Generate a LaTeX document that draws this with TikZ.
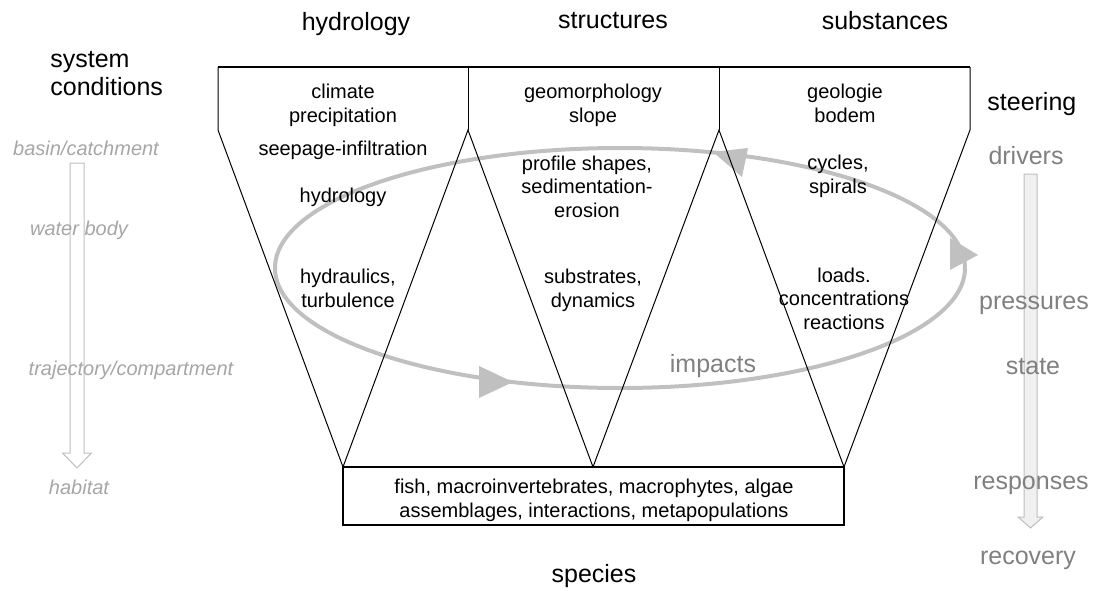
\documentclass[tikz,border=0pt]{standalone}
\usepackage{fontspec}
\setmainfont{Liberation Sans}
\usepackage{tikz}
\definecolor{loopgray}{RGB}{192,192,192}
\definecolor{dpsirgray}{RGB}{128,128,128}
\definecolor{scalegray}{RGB}{166,166,166}
\definecolor{arrowline}{RGB}{190,190,190}
\definecolor{arrowfill}{RGB}{240,240,240}

\begin{document}
\begin{tikzpicture}[x=0.5pt, y=-0.5pt,
	txt/.style={font=\fontsize{10}{11.75}\selectfont, align=center, inner sep=0pt, anchor=base},
	head/.style={font=\fontsize{12.5}{14}\selectfont, inner sep=0pt, anchor=base},
	scalelabel/.style={font=\fontsize{10}{12}\selectfont\itshape, text=scalegray, inner sep=0pt, anchor=base},
	dpsir/.style={font=\fontsize{12.5}{14}\selectfont, text=dpsirgray, inner sep=0pt, anchor=base},
	funnel/.style={line width=0.5pt},
	loopline/.style={draw=loopgray, line width=2pt}]
	\useasboundingbox (0,0) rectangle (1094,590);

	% scale arrows
	\draw[arrowline, fill=white, line width=0.5pt] (70,163) -- (84,163) -- (84,453) -- (91.5,453) -- (77,468) -- (62.5,453) -- (70,453) -- cycle;
	\draw[arrowline, fill=arrowfill, line width=0.5pt] (1024,174) -- (1037,174) -- (1037,517) -- (1043,517) -- (1030.5,528) -- (1018,517) -- (1024,517) -- cycle;

	% impacts loop
	\draw[loopline] (620,268) ellipse [x radius=345, y radius=120];
	\fill[loopgray] (513,382) -- (479,366) -- (479,398) -- cycle;
	\fill[loopgray] (713,152) -- (748,148) -- (742,177) -- cycle;
	\fill[loopgray] (978,255) -- (950,238) -- (950,270) -- cycle;

	% funnels
	\coordinate (t1) at (218,67);
	\coordinate (t2) at (468,67);
	\coordinate (t3) at (719,67);
	\coordinate (t4) at (970,67);
	\coordinate (s1) at (218,130);
	\coordinate (s2) at (468,130);
	\coordinate (s3) at (719,130);
	\coordinate (s4) at (970,130);
	\coordinate (v1) at (343,467);
	\coordinate (v2) at (593,467);
	\coordinate (v3) at (844,467);
	\draw[line width=0.9pt] (t1) -- (t4);
	\draw[funnel] (t1) -- (s1) -- (v1) -- (s2) -- (v2) -- (s3) -- (v3) -- (s4) -- (t4);
	\draw[funnel] (t2) -- (s2) (t3) -- (s3);
	\draw[line width=0.7pt] (v1) rectangle (844,525);

	% headings
	\node[head] (hydro) at (356,30) {hydrology};
	\node[head] (struct) at (613,28) {structures};
	\node[head] (subst) at (885,29) {substances};
	\node[head, anchor=base west, align=left] (syscond) at (50,95) {system\\conditions};
	\node[head, anchor=base west] (steer) at (987,110) {steering};
	\node[head] (species) at (594,582) {species};

	% hydrology funnel
	\node[txt] (climate) at (343,122) {climate\\precipitation};
	\node[txt] (seepage) at (343,155) {seepage-infiltration};
	\node[txt] (hydrol) at (343,202) {hydrology};
	\node[txt] (hydraul) at (348,307) {hydraulics,\\turbulence};

	% structures funnel
	\node[txt] (geomorph) at (593,122) {geomorphology\\slope};
	\node[txt] (profile) at (587,217) {profile shapes,\\sedimentation-\\erosion};
	\node[txt] (substr) at (593,307) {substrates,\\dynamics};

	% substances funnel
	\node[txt] (geologie) at (845,122) {geologie\\bodem};
	\node[txt] (cycles) at (838,193) {cycles,\\spirals};
	\node[txt] (loads) at (844,329) {loads.\\concentrations\\reactions};

	% species box
	\node[txt] (biota) at (594,517) {fish, macroinvertebrates, macrophytes, algae\\assemblages, interactions, metapopulations};

	\node[dpsir] (impacts) at (713,372) {impacts};

	% spatial scale
	\node[scalelabel] (basin) at (86,155) {basin/catchment};
	\node[scalelabel] (water) at (79,235) {water body};
	\node[scalelabel] (traject) at (131,375) {trajectory/compartment};
	\node[scalelabel] (habitat) at (79,494) {habitat};

	% DPSIR chain
	\node[dpsir] (drivers) at (1026,164) {drivers};
	\node[dpsir] (pressures) at (1034,309) {pressures};
	\node[dpsir] (state) at (1033,374) {state};
	\node[dpsir] (responses) at (1031,489) {responses};
	\node[dpsir] (recovery) at (1028,564) {recovery};
\end{tikzpicture}
\end{document}
